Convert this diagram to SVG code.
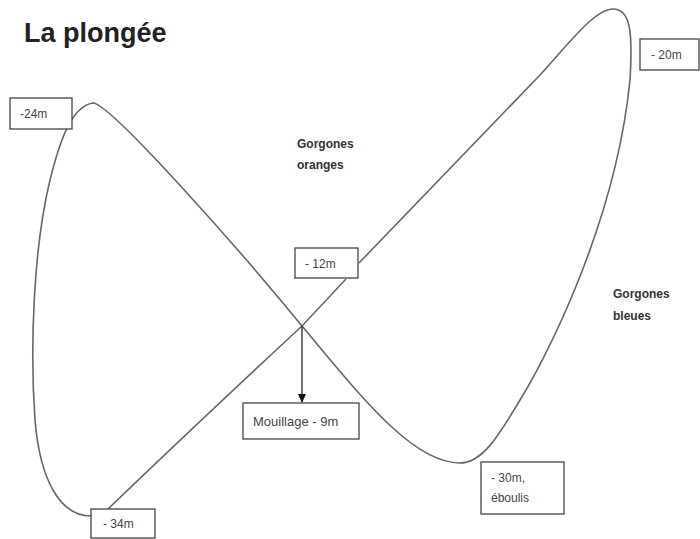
<svg xmlns="http://www.w3.org/2000/svg" width="700" height="539" viewBox="0 0 700 539">
<style>
.curve{fill:none;stroke:#666;stroke-width:1.6}
.box rect{fill:#fff;stroke:#444;stroke-width:1.3}
.lbl{font-family:"Liberation Sans",Arial,sans-serif;font-size:12px;fill:#444}
.bold{font-family:"Liberation Sans",Arial,sans-serif;font-size:12px;font-weight:bold;fill:#333}
</style>
<defs>
<marker id="arr" markerWidth="10" markerHeight="10" refX="8" refY="5" orient="auto" markerUnits="userSpaceOnUse">
<path d="M0,1 L9,5 L0,9 Z" fill="#111"/>
</marker>
</defs>
<rect width="700" height="539" fill="#fff"/>
<text x="24" y="42" font-family="Liberation Sans,Arial,sans-serif" font-size="27" font-weight="bold" fill="#222">La plongée</text>
<g id="connectors">
<path class="curve" d="M91 516 C60 516 40 480 35 420 C30 350 33 250 50 180 C58 148 70 106 93 103 C110 103 240 250 302 326 C360 395 412 463 460 463 C482 463 498 437 520 400 C540 368 615 230 630 80 C633 30 630 9 613 9 C595 9 570 42 540 75 L359 263"/>
<path class="curve" d="M108 509 Q190 430 302 326 L346 279"/>
<line x1="302" y1="326" x2="302" y2="402" stroke="#333" stroke-width="1.4" marker-end="url(#arr)"/>
</g>
<g id="n24" class="box"><rect x="10" y="98" width="62" height="31"/><text class="lbl" x="20" y="118">-24m</text></g>
<g id="n20" class="box"><rect x="640" y="39" width="59" height="31"/><text class="lbl" x="651" y="59">- 20m</text></g>
<g id="n12" class="box"><rect x="295" y="248" width="63" height="30"/><text class="lbl" x="305" y="268">- 12m</text></g>
<g id="nmouillage" class="box"><rect x="243" y="403" width="116" height="36"/><text class="lbl" x="253" y="426" style="font-size:13px">Mouillage - 9m</text></g>
<g id="n30" class="box"><rect x="481" y="462" width="83" height="52"/><text class="lbl" x="491" y="482">- 30m,</text><text class="lbl" x="491" y="502">éboulis</text></g>
<g id="n34" class="box"><rect x="91" y="509" width="64" height="29"/><text class="lbl" x="103" y="528">- 34m</text></g>
<g id="gorg-oranges"><text class="bold" x="297" y="148">Gorgones</text><text class="bold" x="297" y="169">oranges</text></g>
<g id="gorg-bleues"><text class="bold" x="613" y="298">Gorgones</text><text class="bold" x="613" y="320">bleues</text></g>
</svg>
